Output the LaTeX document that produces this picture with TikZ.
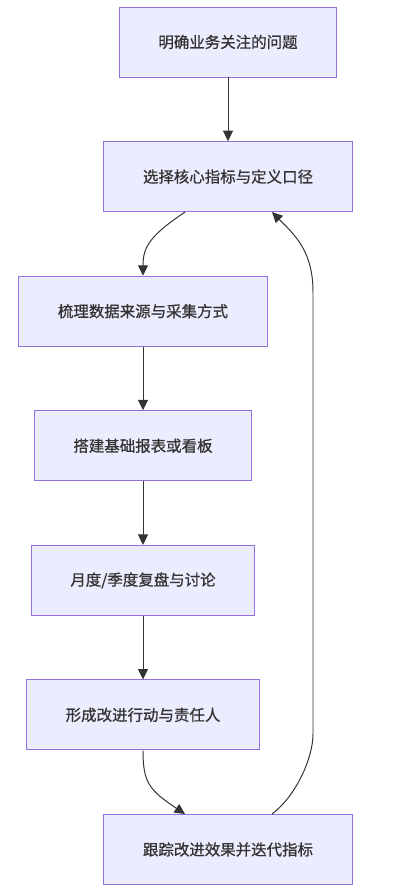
\documentclass[tikz,border=0pt]{standalone}
\usepackage{fontspec}
\usepackage{tikz}
\usetikzlibrary{arrows.meta, positioning, calc}
\newfontfamily\cjk[FakeBold=0.8]{Noto Sans CJK SC}
\definecolor{boxfill}{HTML}{ECECFF}
\definecolor{boxline}{HTML}{9370DB}
\definecolor{dark}{HTML}{333333}
\tikzset{
    stepbox/.style={
        rectangle, draw=boxline, fill=boxfill, line width=0.7pt,
        minimum width=#1, minimum height=1.75cm,
        font=\cjk\fontsize{11}{13}\selectfont, text=dark, align=center
    },
    stepbox/.default=6.225cm,
    flowarrow/.style={
        -{Triangle[length=2.6mm, width=2.5mm]}, line width=0.7pt, color=dark
    },
}
\begin{document}
\begin{tikzpicture}[node distance=1.59cm]

    \useasboundingbox (0,0) rectangle (10,-22.25);

    % Main chain
    \node[stepbox=5.425cm] (issue) at (5.7,-1.05) {明确业务关注的问题};
    \node[stepbox, below=of issue] (metric) {选择核心指标与定义口径};
    \node[stepbox, below=of metric, xshift=-2.125cm] (source) {梳理数据来源与采集方式};
    \node[stepbox=5.425cm, below=of source] (report) {搭建基础报表或看板};
    \node[stepbox=5.575cm, below=of report] (review) {月度/季度复盘与讨论};
    \node[stepbox=5.825cm, below=of review] (action) {形成改进行动与责任人};
    \node[stepbox, below=of action, xshift=2.125cm] (track) {跟踪改进效果并迭代指标};

    % Arrows
    \draw[flowarrow] (issue) -- (metric);
    \draw[flowarrow] ($(metric.south)+(-1.075,0)$) .. controls +(-0.9,-0.6) and +(0,0.7) .. (source.north);
    \draw[flowarrow] (source) -- (report);
    \draw[flowarrow] (report) -- (review);
    \draw[flowarrow] (review) -- (action);
    \draw[flowarrow] (action.south) .. controls +(0,-0.8) and +(-0.9,0.6) .. ($(track.north)+(-1.075,0)$);

    % Loop back
    \coordinate (loopbot) at ($(track.north)+(2.125,2.0)$);
    \coordinate (looptop) at ($(metric.south)+(2.125,-2.0)$);
    \draw[flowarrow] ($(track.north)+(1.1,0)$) .. controls +(0.6,0.45) and +(0,-0.6) .. (loopbot)
        -- (looptop) .. controls +(0,1.0) and +(0.6,-0.6) .. ($(metric.south)+(1.1,0)$);

\end{tikzpicture}
\end{document}
